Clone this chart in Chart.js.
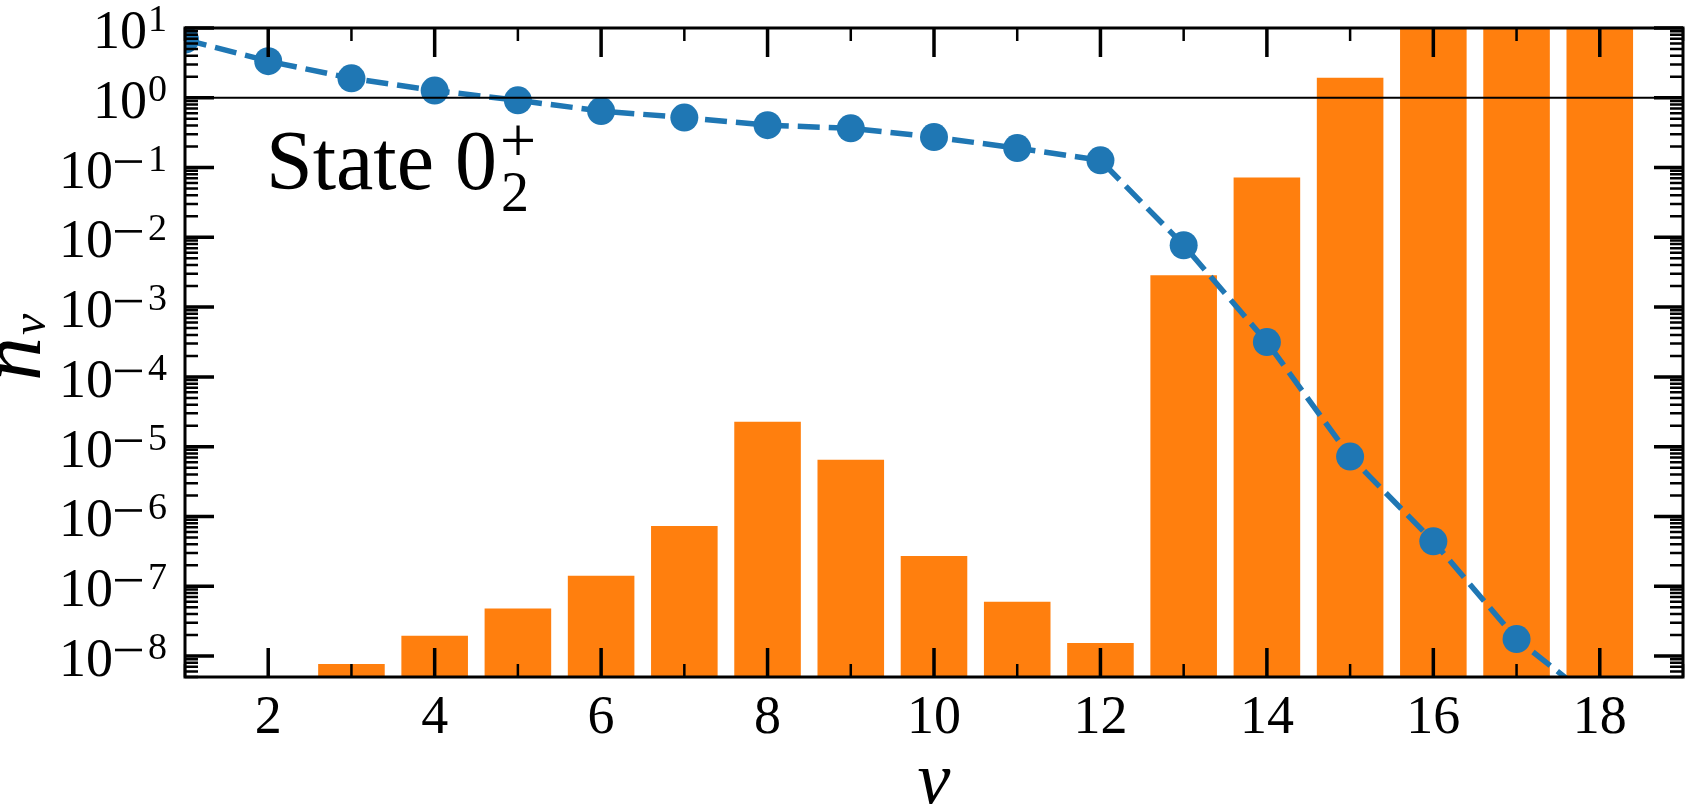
<!DOCTYPE html>
<html>
<head>
<meta charset="utf-8">
<title>State 0_2+ occupation</title>
<script src="https://cdn.jsdelivr.net/npm/chart.js@4.4.0/dist/chart.umd.min.js"></script>
<style>
  html, body { margin: 0; padding: 0; background: #fff; }
  canvas { display: block; }
</style>
</head>
<body>
<canvas id="chartId" width="1697" height="806"></canvas>
<script>
// shell index nu and occupation n_nu (dashed line with dots)
var nu = [1, 2, 3, 4, 5, 6, 7, 8, 9, 10, 11, 12, 13, 14, 15, 16, 17, 18];
var nOccupied = [6.8, 3.35, 1.9, 1.27, 0.92, 0.645, 0.52, 0.405, 0.365, 0.273, 0.19, 0.127,
                 7.7e-3, 3.15e-4, 7.2e-6, 4.4e-7, 1.75e-8, 2.0e-9];

// bars (orange)
var barNu = [3, 4, 5, 6, 7, 8, 9, 10, 11, 12, 13, 14, 15, 16, 17, 18];
var barValues = [7.7e-9, 1.95e-8, 4.8e-8, 1.41e-7, 7.3e-7, 2.27e-5, 6.5e-6, 2.7e-7, 6.0e-8, 1.53e-8,
                 2.85e-3, 7.2e-2, 1.93, 30, 30, 30];

// axis ticks
var xTickLabels = [2, 4, 6, 8, 10, 12, 14, 16, 18];
var yDecades = [-8, -7, -6, -5, -4, -3, -2, -1, 0, 1];
var xMin = 1, xMax = 19;
var yMin = 5e-9, yMax = 10;

// first serif face that is really installed
function pickFont(names) {
    var c = document.createElement('canvas').getContext('2d');
    var s = 'State 0123456789 nv';
    c.font = '40px monospace';
    var base = c.measureText(s).width;
    for (var i = 0; i < names.length; i++) {
        c.font = '40px "' + names[i] + '", monospace';
        if (c.measureText(s).width !== base) return '"' + names[i] + '", serif';
    }
    return 'serif';
}
var serif = pickFont(['Liberation Serif', 'DejaVu Serif', 'Noto Serif']);

function seg(ctx, x0, y0, x1, y1) {
    ctx.moveTo(x0, y0);
    ctx.lineTo(x1, y1);
}

// frame, inward ticks, labels, reference line at n = 1
var decor = {
    id: 'decor',
    afterDatasetsDraw: function (chart) {
        var ctx = chart.ctx, a = chart.chartArea;
        var xs = chart.scales.x, ys = chart.scales.y;
        ctx.save();
        ctx.strokeStyle = '#000';
        ctx.fillStyle = '#000';

        ctx.lineWidth = 2;
        var p1 = ys.getPixelForValue(1);
        ctx.beginPath();
        seg(ctx, a.left, p1, a.right, p1);
        ctx.stroke();

        // x ticks, bottom and top
        for (var v = xMin; v <= xMax; v++) {
            var px = xs.getPixelForValue(v);
            var major = v % 2 === 0;
            var len = major ? 29 : 13;
            ctx.lineWidth = major ? 3.5 : 2.5;
            ctx.beginPath();
            seg(ctx, px, a.bottom, px, a.bottom - len);
            seg(ctx, px, a.top, px, a.top + len);
            ctx.stroke();
        }

        // y ticks, left and right
        for (var e = -9; e <= 1; e++) {
            for (var m = 1; m <= 9; m++) {
                var val = m * Math.pow(10, e);
                if (val < yMin * 0.999 || val > yMax * 1.001) continue;
                var py = ys.getPixelForValue(val);
                var ylen = m === 1 ? 29 : 13;
                ctx.lineWidth = m === 1 ? 3.5 : 2.5;
                ctx.beginPath();
                seg(ctx, a.left, py, a.left + ylen, py);
                seg(ctx, a.right, py, a.right - ylen, py);
                ctx.stroke();
            }
        }

        ctx.lineWidth = 3;
        ctx.strokeRect(a.left, a.top, a.right - a.left, a.bottom - a.top);

        // x tick labels
        ctx.font = '54px ' + serif;
        ctx.textAlign = 'center';
        ctx.textBaseline = 'alphabetic';
        xTickLabels.forEach(function (t) {
            ctx.fillText(String(t), xs.getPixelForValue(t), 733);
        });

        // y tick labels 10^k
        ctx.textAlign = 'left';
        yDecades.forEach(function (k) {
            var py = ys.getPixelForValue(Math.pow(10, k));
            var digits = String(Math.abs(k));
            ctx.font = '38px ' + serif;
            var wExp = ctx.measureText(digits).width;
            var xExp = a.left - 18 - wExp;
            ctx.fillText(digits, xExp, py + 3);
            var xEnd = xExp - 1;
            if (k < 0) {
                ctx.fillRect(xExp - 33, py - 7.3, 27, 2.6);
                xEnd = xExp - 35;
            }
            ctx.font = '54px ' + serif;
            ctx.fillText('10', xEnd - ctx.measureText('10').width, py + 20);
        });

        // axis titles
        ctx.font = 'italic 74px ' + serif;
        ctx.textAlign = 'center';
        ctx.fillText('\u03bd', (a.left + a.right) / 2, 803);

        ctx.save();
        ctx.translate(40, 381);
        ctx.rotate(-Math.PI / 2);
        ctx.textAlign = 'left';
        ctx.font = 'italic 88px ' + serif;
        ctx.fillText('n', 0, 0);
        var wn = ctx.measureText('n').width;
        ctx.font = 'italic 48px ' + serif;
        ctx.fillText('\u03bd', wn + 2, 5);
        ctx.restore();

        // annotation
        ctx.textAlign = 'left';
        ctx.font = '84px ' + serif;
        var tx = a.left + 81;
        ctx.fillText('State 0', tx, 189);
        var w = ctx.measureText('State 0').width;
        ctx.font = '56px ' + serif;
        ctx.fillText('2', tx + w + 4, 211);
        ctx.font = '64px ' + serif;
        ctx.fillText('+', tx + w + 3, 162);

        ctx.restore();
    }
};

var chrt = document.getElementById('chartId').getContext('2d');
var chartId = new Chart(chrt, {
    data: {
        datasets: [{
            type: 'line',
            label: 'n_nu',
            data: nu.map(function (x, i) { return { x: x, y: nOccupied[i] }; }),
            borderColor: '#1f77b4',
            backgroundColor: '#1f77b4',
            borderWidth: 5.5,
            borderDash: [22, 9],
            pointRadius: 14,
            pointBorderWidth: 0,
            pointBackgroundColor: '#1f77b4',
            tension: 0,
            fill: false,
            clip: 0,
            order: 1,
        }, {
            type: 'bar',
            label: 'bars',
            data: barNu.map(function (x, i) { return { x: x, y: barValues[i] }; }),
            backgroundColor: '#ff7f0e',
            borderWidth: 0,
            categoryPercentage: 1.0,
            barPercentage: 0.8,
            clip: 0,
            order: 2,
        }],
    },
    options: {
        responsive: false,
        animation: false,
        devicePixelRatio: 1,
        layout: { padding: { top: 28, right: 2, left: 0, bottom: 0 } },
        plugins: { legend: { display: false }, tooltip: { enabled: false } },
        scales: {
            x: {
                type: 'linear',
                min: xMin,
                max: xMax,
                offset: false,
                ticks: { display: false, stepSize: 1 },
                grid: { display: false },
                border: { display: false },
                afterFit: function (s) { s.height = 129; },
            },
            y: {
                type: 'logarithmic',
                min: yMin,
                max: yMax,
                ticks: { display: false },
                grid: { display: false },
                border: { display: false },
                afterFit: function (s) { s.width = 185; },
            },
        },
    },
    plugins: [decor],
});
</script>
</body>
</html>
